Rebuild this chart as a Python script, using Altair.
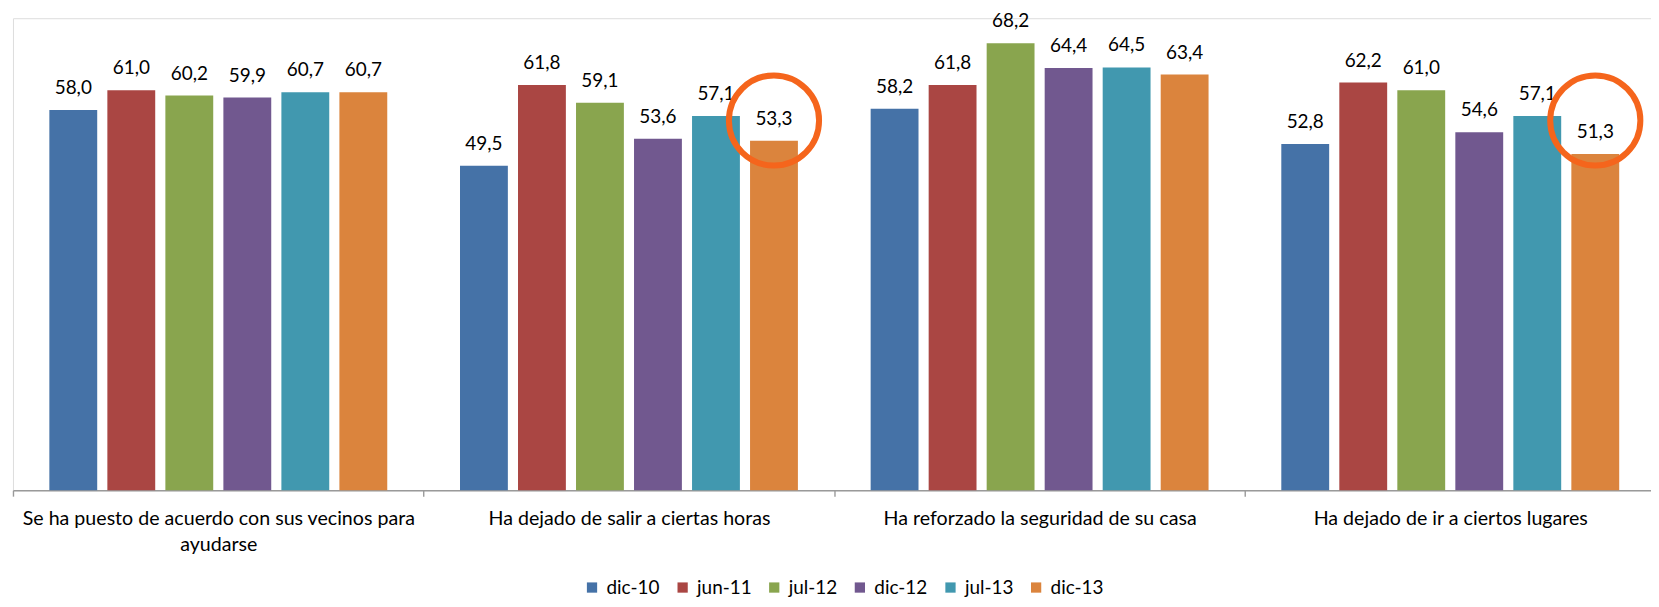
import altair as alt
import pandas as pd

categories = [
    "Se ha puesto de acuerdo con sus vecinos para|ayudarse",
    "Ha dejado de salir a ciertas horas",
    "Ha reforzado la seguridad de su casa",
    "Ha dejado de ir a ciertos lugares",
]
series = ["dic-10", "jun-11", "jul-12", "dic-12", "jul-13", "dic-13"]
colors = ["#4572A7", "#AA4643", "#89A54E", "#71588F", "#4198AF", "#DB843D"]

dic_10 = [58.0, 49.5, 58.2, 52.8]
jun_11 = [61.0, 61.8, 61.8, 62.2]
jul_12 = [60.2, 59.1, 68.2, 61.0]
dic_12 = [59.9, 53.6, 64.4, 54.6]
jul_13 = [60.7, 57.1, 64.5, 57.1]
dic_13 = [60.7, 53.3, 63.4, 51.3]

# highlighted (circled) points: category, series, circle-centre level in value units
highlight_cat = [categories[1], categories[3]]
highlight_series = ["dic-13", "dic-13"]
highlight_level = [56.4, 56.4]

values = [dic_10, jun_11, jul_12, dic_12, jul_13, dic_13]
rows = []
for s, vals in zip(series, values):
    for c, v in zip(categories, vals):
        rows.append({"cat": c, "serie": s, "value": v,
                     "label": f"{v:.1f}".replace(".", ",")})
df = pd.DataFrame(rows)
hl = pd.DataFrame({"cat": highlight_cat, "serie": highlight_series, "level": highlight_level})

FONT = "Lato"

x_enc = alt.X("cat:N", sort=categories,
              scale=alt.Scale(paddingInner=0, paddingOuter=0, range=[0, 1649.6]),
              axis=alt.Axis(title=None, labelAngle=0, labelFont=FONT, labelFontSize=19.7,
                            labelColor="#000000", labelExpr="split(datum.label, '|')",
                            labelLineHeight=27, labelPadding=12, labelLimit=500,
                            domainColor="#9A9A9A", tickColor="#9A9A9A", tickSize=6,
                            tickBand="extent", domainWidth=1.4, tickWidth=1.4))
xo_enc = alt.XOffset("serie:N", sort=series,
                     scale=alt.Scale(paddingInner=0.175, paddingOuter=0.627))
y_scale = alt.Scale(domain=[0, 72])

bars = alt.Chart(df).mark_bar().encode(
    x=x_enc,
    xOffset=xo_enc,
    y=alt.Y("value:Q", scale=y_scale, axis=None),
    color=alt.Color("serie:N", sort=series,
                    scale=alt.Scale(domain=series, range=colors),
                    legend=alt.Legend(title=None, orient="none", direction="horizontal",
                                      columns=6, legendX=572, legendY=562,
                                      symbolType="square", symbolSize=106,
                                      symbolStrokeWidth=0, labelFont=FONT,
                                      labelFontSize=19, labelColor="#000000",
                                      labelOffset=5, columnPadding=13, padding=0)),
)

labels = alt.Chart(df).mark_text(baseline="alphabetic", dy=-16, font=FONT,
                                 fontSize=19, color="#000000").encode(
    x=x_enc,
    xOffset=xo_enc,
    y=alt.Y("value:Q", scale=y_scale),
    text="label:N",
)

circles = alt.Chart(hl).mark_point(shape="circle", filled=False, size=8200,
                                   strokeWidth=6, color="#F5651C", opacity=1).encode(
    x=x_enc,
    xOffset=xo_enc,
    y=alt.Y("level:Q", scale=y_scale),
)

chart = alt.layer(bars, labels, circles).properties(
    width=1645, height=474,
    autosize=alt.AutoSizeParams(type="none"),
    padding={"left": 5, "top": 9, "right": 0, "bottom": 108},
).configure_view(stroke=None).configure(background="white")

chart.save("out.html", embed_options={"renderer": "svg", "actions": False})
